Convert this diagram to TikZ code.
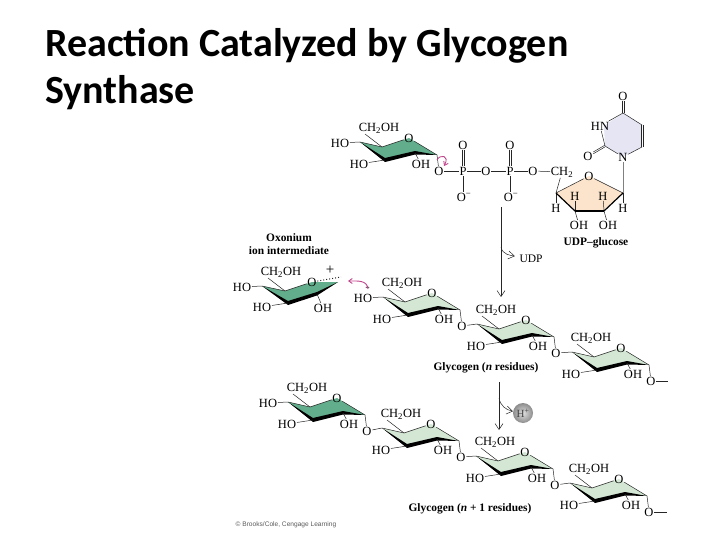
\documentclass[tikz,border=0pt]{standalone}
\usepackage{fontspec}
\setmainfont{Liberation Serif}
\newfontfamily\titlefont{Carlito}
\newfontfamily\creditfont{Liberation Sans}
\usetikzlibrary{arrows.meta}
\definecolor{ringDark}{HTML}{62AE8C}
\definecolor{ringLight}{HTML}{D3E7D4}
\definecolor{ringPeach}{HTML}{FBE4CB}
\definecolor{ringLilac}{HTML}{E5E5F3}
\definecolor{curlPink}{HTML}{C0468C}
\begin{document}
\begin{tikzpicture}
[x=1pt,y=-1pt,
 atomDecorate/.style={inner sep=0.6pt,font=\fontsize{12.5}{13}\selectfont},
 boldDecorate/.style={inner sep=1pt,font=\fontsize{11.4}{13}\bfseries\selectfont,align=center},
 lineDecorate/.style={line width=0.5pt,black!85},
 doubleLeft/.style={lineDecorate,transform canvas={xshift=-1pt}},
 doubleRight/.style={lineDecorate,transform canvas={xshift=1pt}},
 arrowDecorate/.style={-{Straight Barb[length=6pt,width=8pt]},line width=0.5pt,black!85},
 curlDecorate/.style={-{Straight Barb[length=3.5pt,width=5pt]},line width=0.9pt,curlPink}]

 \useasboundingbox (0,0) rectangle (720,540);

 \node (title) at (45,28) [anchor=north west,inner sep=0pt,align=left,font=\titlefont\fontsize{40}{47}\bfseries\selectfont] {Reaction Catalyzed by Glycogen\\Synthase};

 % six-membered rings
 \foreach \r/\x/\y/\ringcolor in {a/360/142/ringDark,b/383/297/ringLight,c/477/324/ringLight,d/572/352/ringLight,e/288/402/ringDark,f/382/428/ringLight,g/476/456/ringLight,h/570/483/ringLight}
 {
   \begin{scope}[shift={(\x,\y)}]
     \coordinate (\r C4) at (0,0);
     \coordinate (\r C5) at (22,5);
     \coordinate (\r C1) at (77,13);
     \coordinate (\r C2) at (55,11);
     \coordinate (\r C3) at (25,18);
     \coordinate (\r CHfoot) at (5,-8);
     \fill[\ringcolor] (0,0) -- (22,5) -- (49,-4) -- (77,13) -- (55,11) -- (25,18) -- cycle;
     \fill[black] (0,0) -- (25,16) -- (55,9) -- (77,13) -- (55,12.5) -- (25,20) -- cycle;
     \node (\r O) at (49,-4) [atomDecorate] {O};
     \node (\r CH) at (19,-14) [atomDecorate] {CH\textsubscript{2}OH};
     \node (\r HOb) at (-1,22) [atomDecorate] {HO};
     \node (\r OH) at (61,22) [atomDecorate] {OH};
     \node (\r Og) at (79,29) [atomDecorate] {O};
   \end{scope}
   \path[lineDecorate]
     (\r C4) edge (\r C5)
     (\r C5) edge (\r O)
     (\r O) edge (\r C1)
     (\r CHfoot) edge (\r C5)
     (\r HOb) edge (\r C3)
     (\r C2) edge (\r OH)
     (\r C1) edge (\r Og);
 }
 \foreach \r in {a,b,e}
 {
   \node (\r HOa) at ([shift={(-20,1)}]\r C4) [atomDecorate] {HO};
   \path[lineDecorate] (\r HOa) edge (\r C4);
 }

 % oxonium ion
 \coordinate (xC4) at (262,286);
 \coordinate (xC5) at (285,291);
 \coordinate (xOpos) at (312,282);
 \coordinate (xC1) at (338,282);
 \coordinate (xC2) at (317,294);
 \coordinate (xC3) at (288,303);
 \coordinate (xDot) at (341,277);
 \coordinate (xCHfoot) at (268,278);
 \fill[ringDark] (xC4) -- (xC5) -- (xOpos) -- (xC1) -- (xC2) -- (xC3) -- cycle;
 \fill[black] (262,286) -- (288,301) -- (317,292) -- (338,282) -- (317,295.5) -- (288,305) -- cycle;
 \node (xO) at (xOpos) [atomDecorate] {O};
 \node (xHOa) at (242,287) [atomDecorate] {HO};
 \node (xCH) at (281,272) [atomDecorate] {CH\textsubscript{2}OH};
 \node (xHOb) at (262,307) [atomDecorate] {HO};
 \node (xOH) at (323,308) [atomDecorate] {OH};
 \node (xPlus) at (330,270) [atomDecorate,font=\fontsize{15}{15}\selectfont] {+};
 \path[lineDecorate]
   (xC4) edge (xC5)
   (xC5) edge (xO)
   (xHOa) edge (xC4)
   (xCHfoot) edge (xC5)
   (xHOb) edge (xC3)
   (xC2) edge (xOH)
   (xO) edge[dotted,line width=1pt] (xDot);

 % phosphates
 \node (Pa) at (463,171) [atomDecorate] {P};
 \node (Pb) at (510,171) [atomDecorate] {P};
 \node (Oa) at (463,145) [atomDecorate] {O};
 \node (Ob) at (510,145) [atomDecorate] {O};
 \node (Oc) at (464,197) [atomDecorate] {O\textsuperscript{−}};
 \node (Od) at (511,197) [atomDecorate] {O\textsuperscript{−}};
 \node (Oe) at (486,171) [atomDecorate] {O};
 \node (Of) at (533,171) [atomDecorate] {O};
 \node (CH) at (562,172) [atomDecorate] {CH\textsubscript{2}};
 \path[lineDecorate]
   (aOg) edge (Pa)
   (Pa) edge (Oe)
   (Oe) edge (Pb)
   (Pb) edge (Of)
   (Of) edge (CH)
   (Pa) edge (Pa|-Oc.north)
   (Pb) edge (Pb|-Od.north);
 \draw[doubleLeft] (Pa) -- (Oa);
 \draw[doubleRight] (Pa) -- (Oa);
 \draw[doubleLeft] (Pb) -- (Ob);
 \draw[doubleRight] (Pb) -- (Ob);

 % ribose
 \coordinate (Rpos) at (589,176);
 \coordinate (Ra) at (623,193);
 \coordinate (Rb) at (604,211);
 \coordinate (Rc) at (575,211);
 \coordinate (Rd) at (556,193);
 \fill[ringPeach] (Rpos) -- (Ra) -- (Rb) -- (Rc) -- (Rd) -- cycle;
 \node (Rn) at (Rpos) [atomDecorate] {O};
 \node (Ha) at (575,196) [atomDecorate] {H};
 \node (Hb) at (603,196) [atomDecorate] {H};
 \node (Hc) at (556,208) [atomDecorate] {H};
 \node (Hd) at (623,208) [atomDecorate] {H};
 \node (OHa) at (579,225) [atomDecorate] {OH};
 \node (OHb) at (608,225) [atomDecorate] {OH};
 \path[lineDecorate]
   (Rd) edge (Rn)
   (Rn) edge (Ra)
   (CH) edge (Rd)
   (Rd) edge (Hc)
   (Ra) edge (Hd)
   (Rc) edge (Ha)
   (Rb) edge (Hb)
   (Rc) edge (OHa)
   (Rb) edge (OHb);
 \draw[line width=1.2pt] (Rd) -- (Rc);
 \draw[line width=2.4pt] (Rc) -- (Rb);
 \draw[line width=1.2pt] (Rb) -- (Ra);

 % uracil
 \coordinate (Napos) at (623,157);
 \coordinate (Ua) at (605,146);
 \coordinate (Nbpos) at (604,126);
 \coordinate (Ub) at (623,113);
 \coordinate (Uc) at (642,125);
 \coordinate (Ud) at (642,147);
 \fill[ringLilac] (Napos) -- (Ua) -- (Nbpos) -- (Ub) -- (Uc) -- (Ud) -- cycle;
 \node (Na) at (Napos) [atomDecorate] {N};
 \node (Nb) at (600,126) [atomDecorate] {HN};
 \node (Oi) at (623,96) [atomDecorate] {O};
 \node (Oj) at (588,156) [atomDecorate] {O};
 \path[lineDecorate]
   (Na) edge (Ua)
   (Ua) edge (Nb)
   (Nb) edge (Ub)
   (Ub) edge (Uc)
   (Ud) edge (Na)
   (Na) edge[black!50] (Ra);
 \draw[doubleLeft] (Uc) -- (Ud);
 \draw[doubleRight] (Uc) -- (Ud);
 \draw[doubleLeft] (Ub) -- (Oi);
 \draw[doubleRight] (Ub) -- (Oi);
 \draw[lineDecorate,transform canvas={yshift=-0.9pt}] (Ua) -- (Oj);
 \draw[lineDecorate,transform canvas={yshift=0.9pt}] (Ua) -- (Oj);

 % glycosidic links
 \foreach \i/\j in {b/c,c/d,e/f,f/g,g/h}
 {
   \path[lineDecorate] (\i Og) edge (\j C4);
 }
 \coordinate (endD) at (668,381);
 \coordinate (endH) at (667,512);
 \path[lineDecorate] (dOg) edge (endD) (hOg) edge (endH);

 % reaction arrows
 \coordinate (arrowA) at (501,207);
 \coordinate (arrowB) at (501,297);
 \coordinate (branchA) at (501,247);
 \coordinate (arrowC) at (499,382);
 \coordinate (arrowD) at (499,430);
 \coordinate (branchB) at (499,398);
 \node (UDP) at (531,259) [atomDecorate,font=\fontsize{11.5}{12}\selectfont] {UDP};
 \node (Hplus) at (523,413) [circle,minimum size=20pt,inner sep=0pt,shading=radial,inner color=black!12,outer color=black!45,font=\fontsize{11}{11}\selectfont,text=black!75] {H\textsuperscript{+}};
 \draw[arrowDecorate] (arrowA) -- (arrowB);
 \draw[arrowDecorate] (arrowC) -- (arrowD);
 \draw[arrowDecorate,shorten >=4pt] (branchA) to[out=-80,in=170] (UDP);
 \draw[arrowDecorate] (branchB) to[out=-80,in=170] (Hplus);

 % electron push
 \coordinate (curlA) at (437,160);
 \coordinate (curlB) at (444,166);
 \coordinate (pushA) at (368,289);
 \coordinate (pushB) at (348,281);
 \draw[curlDecorate] (curlA) .. controls (440,154) and (450,155) .. (curlB);
 \draw[curlDecorate] (pushA) .. controls (367,280) and (358,281) .. (pushB);
 \node (pairDots) at (367.5,288) [inner sep=0pt,font=\fontsize{9}{9}\bfseries\selectfont,text=black!60] {..};

 % labels
 \node (udpGlucose) at (596,243) [boldDecorate] {UDP–glucose};
 \node (oxonium) at (289,244.5) [boldDecorate] {Oxonium\\ion intermediate};
 \node (glycogenA) at (486,368) [boldDecorate] {Glycogen (\textit{n} residues)};
 \node (glycogenB) at (470,509) [boldDecorate] {Glycogen (\textit{n} + 1 residues)};
 \node (credit) at (286,525) [inner sep=0pt,text=black!65,font=\creditfont\fontsize{6.6}{7}\selectfont] {© Brooks/Cole, Cengage Learning};
\end{tikzpicture}
\end{document}
